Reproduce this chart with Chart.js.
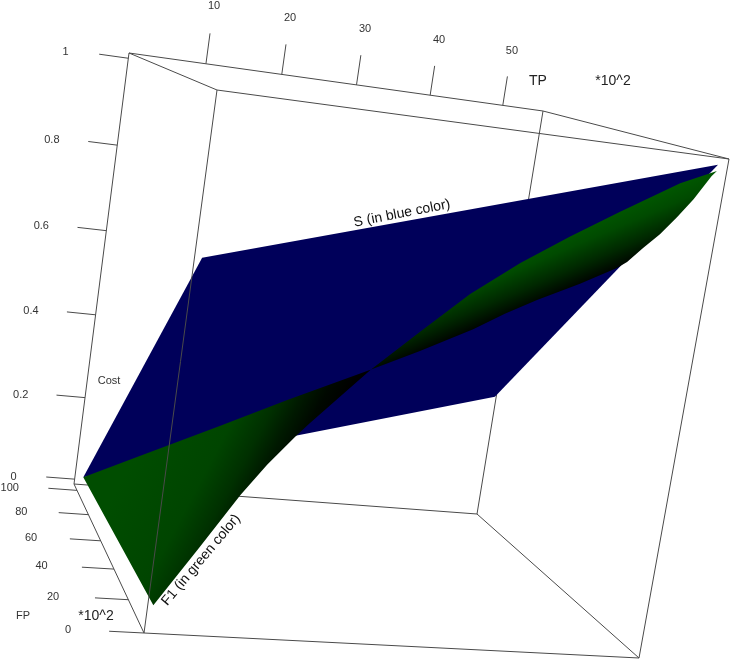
<!DOCTYPE html>
<html>
<head>
<meta charset="utf-8">
<style>
  body { margin: 0; background: #fff; }
  #wrap { width: 731px; height: 661px; }
</style>
<script src="https://cdn.jsdelivr.net/npm/chart.js@4"></script>
</head>
<body>
<div id="wrap"><canvas id="chart" width="731" height="661"></canvas></div>
<script>
// axis ticks
const tpTicks = [10, 20, 30, 40, 50];
const fpTicks = [0, 20, 40, 60, 80, 100];
const costTicks = [0, 0.2, 0.4, 0.6, 0.8, 1];
const costTickLabels = ['0', '0.2', '0.4', '0.6', '0.8', '1'];

// box limits
const tpRange = [0, 55.6];
const fpRange = [0, 105.5];
const costRange = [-0.012, 1.012];

// S surface, one plane over the corners
const sTp = [0.6, 0.8, 54.5, 54.3];
const sFp = [100, 0, 0, 100];
const sCost = [0.021, 0.706, 0.998, 0.305];

// F1 surface, read along its border
const f1EdgeFp0Tp = [0.6, 4.7, 8.3, 10.7, 13.3, 14.6, 20.3, 25, 29.8, 34.7, 39.6, 44.6, 50.7, 54.5];
const f1EdgeFp0Cost = [0.043, 0.161, 0.267, 0.329, 0.388, 0.415, 0.528, 0.61, 0.693, 0.763, 0.824, 0.883, 0.953, 0.986];
const f1EdgeFp100Tp = [0.6, 7.6, 17.6, 26.1, 36.6, 43, 49.8, 53.8];
const f1EdgeFp100Cost = [0.021, 0.083, 0.172, 0.25, 0.342, 0.401, 0.468, 0.514];
const f1EdgeTpMaxFp = [2.4, 8.7, 15, 21.8, 29, 36, 40.8, 59.8, 84.2];
const f1EdgeTpMaxCost = [0.973, 0.919, 0.874, 0.829, 0.789, 0.748, 0.727, 0.66, 0.579];

// view: where the box corners land, keys are tp, fp, cost low/high
const view = {
  '000': [144, 633], '100': [639, 658], '010': [74, 484], '110': [477, 514],
  '001': [217, 90], '101': [729, 159], '011': [129, 53], '111': [543, 111]
};
const warp = (t, k) => t * (1 + k) / (1 + k * t);

function project(tp, fp, cost) {
  const u = warp((tp - tpRange[0]) / (tpRange[1] - tpRange[0]), 0.041);
  const v = warp((fp - fpRange[0]) / (fpRange[1] - fpRange[0]), 0.23);
  const w = warp((cost - costRange[0]) / (costRange[1] - costRange[0]), -0.04);
  const pt = { x: 0, y: 0 };
  for (const key in view) {
    const f = (key[0] === '1' ? u : 1 - u) * (key[1] === '1' ? v : 1 - v) * (key[2] === '1' ? w : 1 - w);
    pt.x += f * view[key][0];
    pt.y += f * view[key][1];
  }
  return pt;
}

const line = (points, order) => ({
  data: points, order, showLine: true, pointRadius: 0,
  borderColor: '#4a4a4a', borderWidth: 1
});
const surface = (points, order, makeFill) => ({
  data: points, order, showLine: false, pointRadius: 0, makeFill
});

const [t0, t1] = tpRange;
const [f0, f1] = fpRange;
const [c0, c1] = costRange;

const backEdges = [
  [[t0, f1, c0], [t0, f1, c1]], [[t1, f1, c0], [t1, f1, c1]], [[t1, f0, c0], [t1, f0, c1]],
  [[t0, f0, c0], [t1, f0, c0]], [[t1, f0, c0], [t1, f1, c0]], [[t1, f1, c0], [t0, f1, c0]], [[t0, f1, c0], [t0, f0, c0]],
  [[t0, f0, c1], [t1, f0, c1]], [[t1, f0, c1], [t1, f1, c1]], [[t1, f1, c1], [t0, f1, c1]], [[t0, f1, c1], [t0, f0, c1]]
];
const frontEdge = [[t0, f0, c0], [t0, f0, c1]];

const tickLines = [
  ...costTicks.map(c => [[t0, f1, c], [-3.75, f1, c]]),
  ...fpTicks.map(f => [[t0, f, c0], [-3.75, f, c0]]),
  ...tpTicks.map(t => [[t, f1, c1], [t, f1, c1 + 0.07]])
];

const toPts = seg => seg.map(p => project(p[0], p[1], p[2]));

// F1 crosses itself where the two long borders meet
const crossFp0 = 6, crossFp100 = 4;
const fp0Pts = f1EdgeFp0Tp.map((t, i) => project(t, 0, f1EdgeFp0Cost[i]));
const fp100Pts = f1EdgeFp100Tp.map((t, i) => project(t, 100, f1EdgeFp100Cost[i]));
const tpMaxPts = f1EdgeTpMaxFp.map((f, i) => project(54.6, f, f1EdgeTpMaxCost[i]));

const leftLobe = [...fp100Pts.slice(0, crossFp100 + 1), ...fp0Pts.slice(0, crossFp0 + 1).reverse()];
const rightLobe = [...fp0Pts.slice(crossFp0), ...tpMaxPts, ...fp100Pts.slice(crossFp100).reverse()];

const polygonFill = {
  id: 'polygonFill',
  beforeDatasetDraw(chart, args) {
    const ds = chart.data.datasets[args.index];
    if (!ds.makeFill) return;
    const ctx = chart.ctx;
    ctx.save();
    ctx.beginPath();
    args.meta.data.forEach((p, i) => (i ? ctx.lineTo(p.x, p.y) : ctx.moveTo(p.x, p.y)));
    ctx.closePath();
    ctx.fillStyle = ds.makeFill(ctx, chart.scales);
    ctx.fill();
    ctx.restore();
  }
};

const font = px => `${px}px "Liberation Sans", Arial, sans-serif`;

const textLabels = {
  id: 'textLabels',
  afterDatasetsDraw(chart) {
    const { ctx, scales: { x, y } } = chart;
    const put = (text, px, py, size, color, angle) => {
      ctx.save();
      ctx.translate(x.getPixelForValue(px), y.getPixelForValue(py));
      if (angle) ctx.rotate(angle * Math.PI / 180);
      ctx.font = font(size);
      ctx.fillStyle = color;
      ctx.textAlign = 'center';
      ctx.textBaseline = 'middle';
      ctx.fillText(text, 0, 0);
      ctx.restore();
    };
    const tick = '#333';
    costTicks.forEach((c, i) => {
      const p = project(-8.3, f1, c);
      put(costTickLabels[i], p.x + (costTickLabels[i].length > 1 ? -1 : 2), p.y + 3, 11, tick);
    });
    fpTicks.forEach(f => {
      const p = project(-8.4, f, 0);
      put(String(f), p.x - 1 + (2 - String(f).length) * 2.5, p.y + 7, 11, tick);
    });
    tpTicks.forEach(t => {
      const p = project(t, f1, 1.15);
      put(String(t), p.x, p.y + 2.5, 11, tick);
    });
    put('TP', 538, 81, 14, '#222');
    put('*10^2', 613, 81, 14, '#222');
    put('FP', 23, 616, 11, '#333');
    put('*10^2', 96, 616, 14, '#222');
    put('Cost', 109, 381, 11, '#333');
    put('S (in blue color)', 402, 213.5, 14, '#111', -11);
    put('F1 (in green color)', 201, 560, 14, '#111', -50);
  }
};

new Chart(document.getElementById('chart'), {
  type: 'scatter',
  data: {
    datasets: [
      ...backEdges.map(seg => line(toPts(seg), 5)),
      ...tickLines.map(seg => line(toPts(seg), 5)),
      surface(sTp.map((t, i) => project(t, sFp[i], sCost[i])), 4, () => '#00005a'),
      surface(leftLobe, 3, (ctx, s) => {
        const g = ctx.createLinearGradient(
          s.x.getPixelForValue(100), s.y.getPixelForValue(520),
          s.x.getPixelForValue(241), s.y.getPixelForValue(595));
        g.addColorStop(0, '#004d00');
        g.addColorStop(0.44, '#004500');
        g.addColorStop(0.625, '#003000');
        g.addColorStop(0.75, '#001a00');
        g.addColorStop(0.875, '#000800');
        g.addColorStop(1, '#000000');
        return g;
      }),
      surface(rightLobe, 2, (ctx, s) => {
        const g = ctx.createLinearGradient(
          s.x.getPixelForValue(570), s.y.getPixelForValue(226),
          s.x.getPixelForValue(593.4), s.y.getPixelForValue(281.2));
        g.addColorStop(0, '#005a00');
        g.addColorStop(0.33, '#004a00');
        g.addColorStop(0.67, '#002800');
        g.addColorStop(1, '#000000');
        return g;
      }),
      line(toPts(frontEdge), 1)
    ]
  },
  options: {
    responsive: false,
    animation: false,
    layout: { padding: 0 },
    plugins: { legend: { display: false }, tooltip: { enabled: false } },
    scales: {
      x: { type: 'linear', display: false, min: 0, max: 731 },
      y: { type: 'linear', display: false, min: 0, max: 661, reverse: true }
    }
  },
  plugins: [polygonFill, textLabels]
});
</script>
</body>
</html>
